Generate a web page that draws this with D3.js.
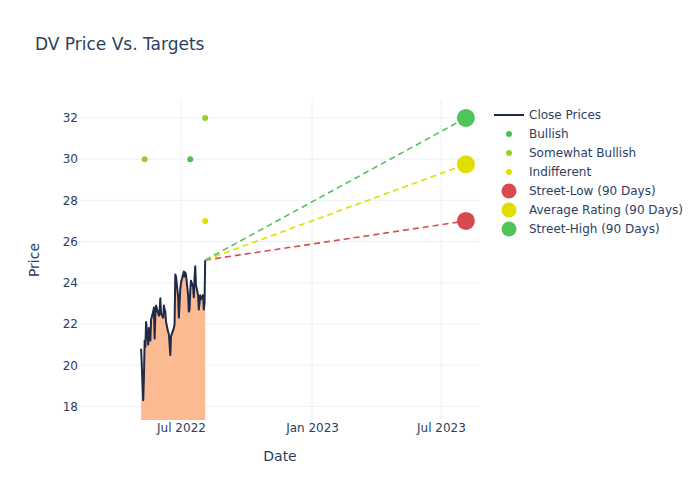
<!DOCTYPE html>
<html>
<head>
<meta charset="utf-8">
<script src="https://cdn.jsdelivr.net/npm/d3@7"></script>
<style>
  html, body { margin: 0; padding: 0; background: #fff; }
  svg { display: block; font-family: "DejaVu Sans", sans-serif; }
</style>
</head>
<body>
<svg id="chart" width="700" height="500"></svg>
<script>
// ---- data ----
const priceDates = [
  "2022-05-06","2022-05-09","2022-05-10","2022-05-11","2022-05-12","2022-05-13",
  "2022-05-16","2022-05-17","2022-05-18","2022-05-19","2022-05-20",
  "2022-05-23","2022-05-24","2022-05-25","2022-05-26","2022-05-27",
  "2022-05-31","2022-06-01","2022-06-02","2022-06-03",
  "2022-06-06","2022-06-07","2022-06-08","2022-06-09","2022-06-10",
  "2022-06-13","2022-06-14","2022-06-15","2022-06-16","2022-06-17",
  "2022-06-21","2022-06-22","2022-06-23","2022-06-24",
  "2022-06-27","2022-06-28","2022-06-29","2022-06-30","2022-07-01",
  "2022-07-05","2022-07-06","2022-07-07","2022-07-08",
  "2022-07-11","2022-07-12","2022-07-13","2022-07-14","2022-07-15",
  "2022-07-18","2022-07-19","2022-07-20","2022-07-21","2022-07-22",
  "2022-07-25","2022-07-26","2022-07-27","2022-07-28","2022-07-29",
  "2022-08-01","2022-08-02","2022-08-03","2022-08-04"
];
const closePrices = [
  20.8, 18.3, 19.5, 21.2, 20.9, 22.1,
  21.0, 21.8, 21.4, 21.2, 22.2,
  22.6, 22.8, 21.3, 22.4, 22.9,
  22.4, 22.6, 23.25, 22.5,
  22.3, 22.9, 22.7, 22.6, 22.1,
  21.6, 21.5, 21.0, 20.5, 21.4,
  21.8, 22.0, 24.4, 24.3,
  23.3, 22.3, 23.0, 23.7, 24.0,
  24.55, 24.3, 24.5, 24.4,
  23.4, 22.6, 22.7, 23.6, 24.1,
  23.8, 23.3, 24.2, 24.8, 23.9,
  23.4, 22.7, 23.0, 23.4, 23.2,
  23.4, 22.7, 23.0, 25.1
];

const ratingNames  = ["Somewhat Bullish", "Bullish", "Somewhat Bullish", "Indifferent"];
const ratingDates  = ["2022-05-11", "2022-07-14", "2022-08-04", "2022-08-04"];
const ratingValues = [30, 30, 32, 27];

const targetNames  = ["Street-Low (90 Days)", "Average Rating (90 Days)", "Street-High (90 Days)"];
const targetDate   = "2023-08-05";
const targetValues = [27, 29.75, 32];

const xTickDates  = ["2022-07-01", "2023-01-01", "2023-07-01"];
const xTickLabels = ["Jul 2022", "Jan 2023", "Jul 2023"];
const yTicks      = [18, 20, 22, 24, 26, 28, 30, 32];

const legendItems = ["Close Prices", "Bullish", "Somewhat Bullish", "Indifferent",
                     "Street-Low (90 Days)", "Average Rating (90 Days)", "Street-High (90 Days)"];

// ---- styles ----
const colors = {
  "Close Prices": "#1f2a48",
  "Bullish": "#4cbf55",
  "Somewhat Bullish": "#9acd32",
  "Indifferent": "#e0e000",
  "Street-Low (90 Days)": "#d64a50",
  "Average Rating (90 Days)": "#dede00",
  "Street-High (90 Days)": "#4fc45a"
};
const textColor = "#2a3f5f";
const gridColor = "#ebf0f8";
const fillColor = "#fbba92";
const font = '"DejaVu Sans", sans-serif';

const parse = d3.timeParse("%Y-%m-%d");
const svg = d3.select("#chart");

const L = 80, R = 480, T = 100, B = 420;
const x = d3.scaleTime()
  .domain([new Date(2022, 1, 9, 5), new Date(2023, 7, 24, 19)])
  .range([L, R]);
const y = d3.scaleLinear().domain([17.34, 32.87]).range([B, T]);

// clip
svg.append("defs").append("clipPath").attr("id", "clip")
  .append("rect").attr("x", L).attr("y", T).attr("width", R - L).attr("height", B - T);

// grid
const grid = svg.append("g");
grid.selectAll(".gy").data(yTicks).join("line")
  .attr("x1", L).attr("x2", R)
  .attr("y1", d => y(d)).attr("y2", d => y(d))
  .attr("stroke", gridColor).attr("stroke-width", 1);
grid.selectAll(".gx").data(xTickDates).join("line")
  .attr("x1", d => x(parse(d))).attr("x2", d => x(parse(d)))
  .attr("y1", T).attr("y2", B)
  .attr("stroke", gridColor).attr("stroke-width", 1);

// axes (labels only)
const yAxis = d3.axisLeft(y).tickValues(yTicks).tickSize(0).tickPadding(0);
const gy = svg.append("g").attr("transform", `translate(${L - 2},0)`).call(yAxis);
gy.select(".domain").remove();
gy.selectAll("text").attr("fill", textColor).attr("font-size", 12).attr("font-family", font);

const xAxis = d3.axisBottom(x).tickValues(xTickDates.map(parse))
  .tickFormat((d, i) => xTickLabels[i]).tickSize(0).tickPadding(0);
const gx = svg.append("g").attr("transform", `translate(0,${B + 3})`).call(xAxis);
gx.select(".domain").remove();
gx.selectAll("text").attr("fill", textColor).attr("font-size", 12).attr("font-family", font);

const plot = svg.append("g").attr("clip-path", "url(#clip)");

const priceData = priceDates.map((d, i) => ({ date: parse(d), v: closePrices[i] }));

// area fill to zero
plot.append("path").datum(priceData)
  .attr("d", d3.area().x(d => x(d.date)).y0(y(0)).y1(d => y(d.v)))
  .attr("fill", fillColor).attr("stroke", "none");

// close line
plot.append("path").datum(priceData)
  .attr("d", d3.line().x(d => x(d.date)).y(d => y(d.v)))
  .attr("fill", "none").attr("stroke", colors["Close Prices"]).attr("stroke-width", 2)
  .attr("stroke-linejoin", "round");

// dashed target lines
const last = priceData[priceData.length - 1];
targetNames.forEach((n, i) => {
  plot.append("line")
    .attr("x1", x(last.date)).attr("y1", y(last.v))
    .attr("x2", x(parse(targetDate))).attr("y2", y(targetValues[i]))
    .attr("stroke", colors[n]).attr("stroke-width", 1.6)
    .attr("stroke-dasharray", "6,4");
});

// rating dots
ratingNames.forEach((n, i) => {
  plot.append("circle")
    .attr("cx", x(parse(ratingDates[i]))).attr("cy", y(ratingValues[i]))
    .attr("r", 3).attr("fill", colors[n]);
});

// target markers
targetNames.forEach((n, i) => {
  svg.append("circle")
    .attr("cx", x(parse(targetDate))).attr("cy", y(targetValues[i]))
    .attr("r", 9).attr("fill", colors[n]);
});

// title
svg.append("text").attr("x", 35).attr("y", 50)
  .attr("fill", textColor).attr("font-size", 17).text("DV Price Vs. Targets");

// axis titles
svg.append("text").attr("x", (L + R) / 2).attr("y", 461)
  .attr("text-anchor", "middle").attr("fill", textColor).attr("font-size", 14).text("Date");
svg.append("text").attr("transform", `translate(39,${(T + B) / 2}) rotate(-90)`)
  .attr("text-anchor", "middle").attr("fill", textColor).attr("font-size", 14).text("Price");

// legend
const lg = svg.append("g");
legendItems.forEach((n, i) => {
  const cy = 115 + i * 19;
  if (i === 0) {
    lg.append("line").attr("x1", 494).attr("x2", 524).attr("y1", cy).attr("y2", cy)
      .attr("stroke", colors[n]).attr("stroke-width", 2);
  } else {
    lg.append("circle").attr("cx", 509).attr("cy", cy)
      .attr("r", i >= 4 ? 7.5 : 3).attr("fill", colors[n]);
  }
  lg.append("text").attr("x", 529).attr("y", cy + 4)
    .attr("fill", textColor).attr("font-size", 12).text(n);
});
</script>
</body>
</html>
